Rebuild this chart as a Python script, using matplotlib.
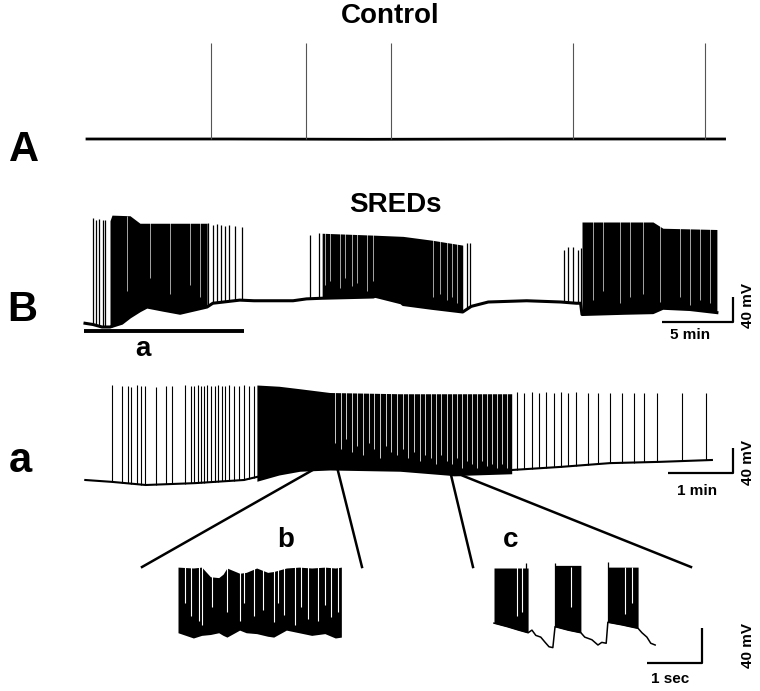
#!/usr/bin/env python3
"""Intracellular recordings: control vs SREDs, with expanded segments."""

import matplotlib

matplotlib.use("Agg")
import matplotlib.pyplot as plt
import numpy as np

W, H = 760, 691
FONT = ["Liberation Sans", "DejaVu Sans"]

# ---- A: control trace (min, mV) ----
CTRL_BASE_T = [0.0, 10.0, 20.0, 30.0, 40.0, 44.9]
CTRL_BASE_V = [-70, -70, -70.5, -70, -70, -70]
CTRL_SPIKE_T = [8.7, 15.4, 21.4, 34.2, 43.5]
CTRL_SPIKE_PEAK = [84, 84, 84, 84, 84]

# ---- B: SREDs trace (min, mV) ----
SRED_BASE_T = [0.0, 0.56, 1.2, 1.76, 2.6, 3.17, 3.87, 4.37, 5.5, 6.7, 8.6, 9.0,
               10.9, 11.9, 14.65, 15.6, 16.7, 20.3, 21.3, 21.6, 22.4, 24.4, 26.6,
               27.2, 28.4, 31.1, 33.5, 34.6, 34.9, 35.0, 38.0, 40.0, 40.7, 42.6,
               44.5]
SRED_BASE_V = [-72, -74, -78, -78, -72, -62, -52, -46, -51, -56, -46, -40,
               -35, -36, -36, -33, -32, -30, -22, -20, -42, -48, -54,
               -45, -38, -36, -38, -40, -40, -58, -56, -55, -48, -50,
               -55]
SRED_BURST1_T = [1.76, 1.9, 3.17, 3.87, 4.37, 5.5, 6.7, 8.6]
SRED_BURST1_TOP = [92, 101, 100, 88, 88, 88, 88, 88]
SRED_BURST1_BOT = [-78, -78, -62, -52, -46, -51, -56, -46]
SRED_BURST2_T = [16.7, 20.3, 22.4, 24.4, 26.6]
SRED_BURST2_TOP = [72, 69, 67, 61, 53]
SRED_BURST2_BOT = [-32, -30, -42, -48, -54]
SRED_BURST3_T = [35.0, 38.0, 40.0, 40.7, 42.6, 44.5]
SRED_BURST3_TOP = [90, 90, 90, 80, 79, 78]
SRED_BURST3_BOT = [-58, -56, -55, -48, -50, -55]
SRED_SPIKE_T = [0.56, 0.77, 0.99, 1.27, 1.41, 8.66, 9.01, 9.3, 9.58, 9.86, 10.14,
                10.56, 11.06, 15.85, 16.48, 26.9, 27.1, 33.75, 34.0, 34.4, 34.7,
                34.9]
SRED_SPIKE_PEAK = [96, 93, 95, 93, 94, 88, 86, 87, 85, 84, 86,
                   83, 82, 69, 72, 56, 56, 45, 50, 50, 45, 48]
SRED_GAP_T = [2.96, 4.58, 5.99, 7.39, 8.1,
              16.9, 17.25, 17.96, 18.31, 18.8, 19.15, 19.86, 20.28, 24.5, 25.0,
              25.49, 25.85, 26.2,
              35.77, 36.48, 37.68, 38.38, 39.3, 40.49, 41.9, 42.61, 43.31, 44.01]
SRED_GAP_LOW = [-20, 0, -25, -10, -30,
                -10, -5, -15, 0, -12, -8, -20, -5, -30, -25,
                -35, -30, -40,
                -35, -20, -40, -30, -25, -38, -30, -42, -35, -40]
SEGMENT_A = (-0.07, 11.2)  # part of B expanded in a

# ---- a: expanded start of SRED (min, mV) ----
EXP_BASE_T = [0.02, 0.43, 0.95, 1.71, 2.46, 2.91, 3.35, 3.89, 4.42, 5.09, 5.69,
              6.58, 7.34, 8.09, 8.85, 9.66]
EXP_BASE_V = [-70, -73, -78, -75, -70, -59, -51, -49, -49, -51, -57,
              -54, -49, -43, -41, -38]
EXP_DENSE_T = [2.66, 3.0, 3.32, 3.78, 4.86, 5.69, 6.58]
EXP_DENSE_TOP = [82, 80, 76, 70, 68, 68, 68]
EXP_DENSE_BOT = [-72, -62, -56, -54, -56, -63, -60]
EXP_SPIKE_T = [0.43, 0.58, 0.68, 0.72, 0.82, 0.88, 0.94, 1.11, 1.26, 1.35, 1.55,
               1.65, 1.69, 1.75, 1.8, 1.85, 1.89, 1.95, 2.02, 2.06, 2.12, 2.17,
               2.23, 2.31, 2.38, 2.46, 2.54, 2.62,
               6.66, 6.77, 6.89, 7.0, 7.11, 7.23, 7.34, 7.45, 7.57, 7.75, 7.91,
               8.09, 8.28, 8.46, 8.62, 8.82, 9.2, 9.57]
EXP_SPIKE_PEAK = [82, 80, 81, 79, 82, 80, 81, 79, 80, 81, 82,
                  80, 81, 82, 80, 81, 82, 80, 81, 82, 80, 81,
                  82, 81, 80, 82, 81, 80,
                  71, 70, 71, 70, 71, 70, 71, 70, 71, 70, 70,
                  70, 70, 70, 70, 69, 70, 70]
EXP_GAP_T = [3.86, 3.95, 4.03, 4.12, 4.2, 4.29, 4.38, 4.46, 4.55, 4.65, 4.72,
             4.82, 4.91, 4.98, 5.08, 5.17, 5.25, 5.34, 5.42, 5.49, 5.58, 5.66,
             5.74, 5.82, 5.89, 5.97, 6.05, 6.12, 6.2, 6.28, 6.35, 6.43, 6.51]
EXP_GAP_LOW = [-10, -20, -5, -25, -15, -30, -10, -20, -35, -15, -25,
               -30, -20, -35, -25, -40, -30, -35, -45, -30, -40, -45,
               -35, -50, -40, -45, -50, -40, -48, -45, -50, -44, -50]

# ---- b: inset, during dense firing (s, mV) ----
INB_T = [0.0, 0.28, 0.43, 0.59, 0.74, 0.82, 0.89, 1.12, 1.24, 1.43, 1.63, 1.74,
         1.97, 2.2, 2.43, 2.67, 2.86, 2.97]
INB_TOP = [11, 10, 11, 0, -1, 3, 10, 4, 5, 10, 5, 6, 10, 11, 10, 11, 10, 11]
INB_BOT = [-64, -70, -67, -66, -64, -67, -69, -61, -64, -65, -68, -69, -61, -64,
           -67, -65, -70, -69]
INB_GAP_T = [0.12, 0.24, 0.39, 0.43, 0.62, 0.89, 1.12, 1.2, 1.39, 1.55, 1.74,
             1.82, 1.93, 2.13, 2.24, 2.36, 2.55, 2.67, 2.78, 2.9]
INB_GAP_LOW = [-30, -45, -50, -55, -35, -40, -50, -30, -45, -38, -52,
               -30, -44, -55, -35, -48, -50, -32, -46, -40]

# ---- c: inset, clustered firing (s, mV) ----
INC_T = [0.0, 0.24, 0.45, 0.62, 0.69, 0.76, 0.85, 0.93, 1.0, 1.07, 1.11, 1.35,
         1.58, 1.65, 1.78, 1.89, 1.96, 2.04, 2.07, 2.33, 2.62, 2.69, 2.78, 2.85,
         2.93]
INC_V = [-53, -57, -61, -64, -61, -67, -69, -75, -80, -81, -57, -61,
         -64, -69, -72, -78, -75, -76, -52, -55, -59, -64, -69, -76,
         -78]
INC_BURST_START = [0.0, 1.11, 2.07]
INC_BURST_END = [0.62, 1.58, 2.62]
INC_BURST_TOP = [10, 13, 11]
INC_SPIKE_T = [0.58, 1.11, 2.07]
INC_SPIKE_PEAK = [16, 16, 17]
INC_GAP_T = [0.42, 0.51, 1.4, 2.38, 2.5]
INC_GAP_LOW = [-45, -40, -35, -42, -30]

fig = plt.figure(figsize=(W / 100, H / 100), dpi=100)
canvas = fig.add_axes([0, 0, 1, 1])
canvas.set_xlim(0, W)
canvas.set_ylim(H, 0)
canvas.axis("off")


def panel_axes(top, bottom, x0, px_x, y0, v0, px_y):
    """Full-width axes band whose data units map onto the page."""
    ax = fig.add_axes([0, 1 - bottom / H, 1, (bottom - top) / H])
    ax.set_xlim(-x0 / px_x, (W - x0) / px_x)
    ax.set_ylim(v0 - (bottom - y0) / px_y, v0 + (y0 - top) / px_y)
    ax.axis("off")
    return ax


def spikes(ax, t, peak, base_t, base_v, **kw):
    base = np.interp(t, base_t, base_v)
    ax.vlines(t, base, peak, **kw)


def scale_bar(ax, x_end, y0, dx, dy, xlabel, xlab_pos, ylab_pos):
    ax.plot([x_end - dx, x_end, x_end], [y0, y0, y0 + dy], color="black",
            lw=1.6, solid_capstyle="butt")
    canvas.text(*xlab_pos, xlabel, ha="center", va="center", fontsize=11,
                fontweight="bold", family=FONT)
    canvas.text(*ylab_pos, "40 mV", ha="center", va="center", fontsize=11,
                fontweight="bold", family=FONT, rotation=90)


# A
ax = panel_axes(30, 160, 87, 14.2, 139, -70, 1 / 1.6)
ax.plot(CTRL_BASE_T, CTRL_BASE_V, color="black", lw=2.0)
spikes(ax, CTRL_SPIKE_T, CTRL_SPIKE_PEAK, CTRL_BASE_T, CTRL_BASE_V,
       color="#555555", lw=0.8)

# B
ax = panel_axes(195, 350, 85, 14.2, 322, -70, 1 / 1.6)
ax.plot(SRED_BASE_T, SRED_BASE_V, color="black", lw=2.2)
for t, top, bot in [(SRED_BURST1_T, SRED_BURST1_TOP, SRED_BURST1_BOT),
                    (SRED_BURST2_T, SRED_BURST2_TOP, SRED_BURST2_BOT),
                    (SRED_BURST3_T, SRED_BURST3_TOP, SRED_BURST3_BOT)]:
    ax.fill_between(t, bot, top, color="black", lw=0)
ax.vlines(SRED_GAP_T, SRED_GAP_LOW, 100, color="white", lw=0.6, alpha=0.75)
spikes(ax, SRED_SPIKE_T, SRED_SPIKE_PEAK, SRED_BASE_T, SRED_BASE_V,
       color="black", lw=0.9)
ax.plot(SEGMENT_A, [-84, -84], color="black", lw=2.8, solid_capstyle="butt")
scale_bar(ax, 45.6, -70, 5, 40, "5 min", (690, 335), (748, 305))

# a
ax = panel_axes(370, 500, 84, 65, 480, -70, 1 / 1.6)
ax.plot(EXP_BASE_T, EXP_BASE_V, color="black", lw=1.5)
ax.fill_between(EXP_DENSE_T, EXP_DENSE_BOT, EXP_DENSE_TOP, color="black", lw=0)
ax.vlines(EXP_GAP_T, EXP_GAP_LOW, 75, color="white", lw=0.7, alpha=0.8)
spikes(ax, EXP_SPIKE_T, EXP_SPIKE_PEAK, EXP_BASE_T, EXP_BASE_V,
       color="black", lw=0.8)
scale_bar(ax, 9.98, -58.8, 1, 40, "1 min", (697, 491), (748, 462))

# b
ax = panel_axes(550, 660, 178, 55, 638, -70, 0.875)
ax.fill_between(INB_T, INB_BOT, INB_TOP, color="black", lw=0)
ax.vlines(INB_GAP_T, INB_GAP_LOW, 12, color="white", lw=0.8)

# c
ax = panel_axes(550, 691, 494, 55, 638, -70, 0.875)
ax.plot(INC_T, INC_V, color="black", lw=1.1)
inc_t = np.array(INC_T)
for s, e, top in zip(INC_BURST_START, INC_BURST_END, INC_BURST_TOP):
    ax.fill_between(inc_t, INC_V, top, where=(inc_t >= s) & (inc_t <= e),
                    color="black", lw=0)
spikes(ax, INC_SPIKE_T, INC_SPIKE_PEAK, INC_T, INC_V, color="black", lw=0.9)
ax.vlines(INC_GAP_T, INC_GAP_LOW, 11, color="white", lw=0.8)
scale_bar(ax, 3.78, -98.6, 1, 40, "1 sec", (670, 679), (748, 646))

# zoom fans from a to b and c
fan = dict(color="black", lw=1.8, solid_joinstyle="miter")
canvas.plot([142, 318, 337, 362], [567, 467, 467, 567], **fan)
canvas.plot([473, 451, 461, 691], [567, 475, 475, 567], **fan)

# titles and panel letters
title = dict(ha="center", va="center", fontweight="bold", family=FONT)
canvas.text(390, 16, "Control", fontsize=20, **title)
canvas.text(395, 205, "SREDs", fontsize=20, **title)
canvas.text(24, 150, "A", fontsize=30, **title)
canvas.text(22, 310, "B", fontsize=30, **title)
canvas.text(20, 461, "a", fontsize=30, **title)
canvas.text(143, 349, "a", fontsize=20, **title)
canvas.text(286, 540, "b", fontsize=20, **title)
canvas.text(511, 540, "c", fontsize=20, **title)

fig.savefig("out.png", dpi=100)
